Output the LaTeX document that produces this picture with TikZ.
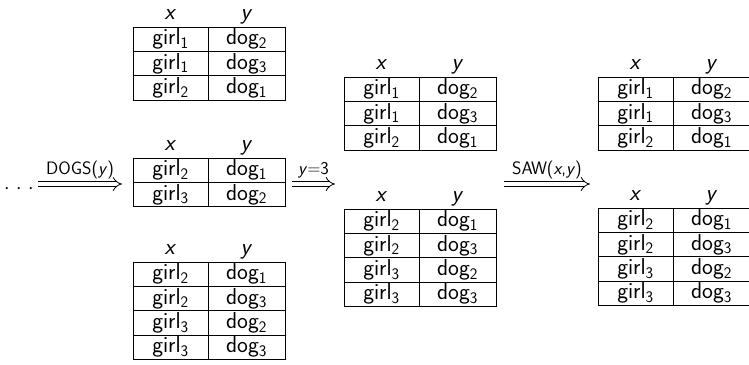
\documentclass[tikz,border=0pt]{standalone}
\usetikzlibrary{arrows.meta}
\newcommand\mytable[4]{%
  \node[hdr] (#1-hx) at (#2+37.5, #3-8) {\textit{x}};
  \node[hdr] (#1-hy) at (#2+113.5, #3-8) {\textit{y}};
  \foreach \g/\d [count=\i] in {#4} {
    \node[cell, minimum width=75pt] (#1-\i-a) at (#2+37.5, #3+12.15+24.3*\i-24.3) {girl\textsubscript{\g}};
    \node[cell, minimum width=77pt] (#1-\i-b) at (#2+113.5, #3+12.15+24.3*\i-24.3) {dog\textsubscript{\d}};
  }%
}
\begin{document}
\begin{tikzpicture}[x=1pt,y=-1pt,
  cell/.style={draw, line width=0.8pt, minimum height=24.3pt, inner sep=0pt, font=\fontsize{23}{26}\selectfont\sffamily},
  hdr/.style={inner sep=0pt, anchor=base, font=\fontsize{23}{26}\selectfont\sffamily},
  lbl/.style={inner sep=0pt, font=\fontsize{18}{20}\selectfont\sffamily},
  darrow/.style={double, double distance=4.2pt, line width=0.8pt, -{Implies[]}}]
\useasboundingbox (0,0) rectangle (749,364);
\mytable{t1}{133}{27}{1/2,1/3,2/1}
\mytable{t2}{133}{158}{2/1,3/2}
\mytable{t3}{133}{262}{2/1,2/3,3/2,3/3}
\mytable{t4}{344}{77}{1/2,1/3,2/1}
\mytable{t5}{344}{209}{2/1,2/3,3/2,3/3}
\mytable{t6}{598}{77}{1/2,1/3,2/1}
\mytable{t7}{598}{208}{2/1,2/3,3/2,3/3}
\node[hdr] (dots) at (19,189) {.\hspace{6pt}.\hspace{6pt}.};
\coordinate (a1s) at (38,184);
\coordinate (a1e) at (122,184);
\coordinate (a2s) at (292,184);
\coordinate (a2e) at (335,184);
\coordinate (a3s) at (504,184);
\coordinate (a3e) at (590,184);
\draw[darrow] (a1s) -- (a1e) node[lbl, midway, above=5pt] (l1) {DOGS(\textit{y})};
\draw[darrow] (a2s) -- (a2e) node[lbl, midway, above=5pt] (l2) {\textit{y}=3};
\draw[darrow] (a3s) -- (a3e) node[lbl, midway, above=5pt] (l3) {SAW(\textit{x},\textit{y})};
\end{tikzpicture}
\end{document}
